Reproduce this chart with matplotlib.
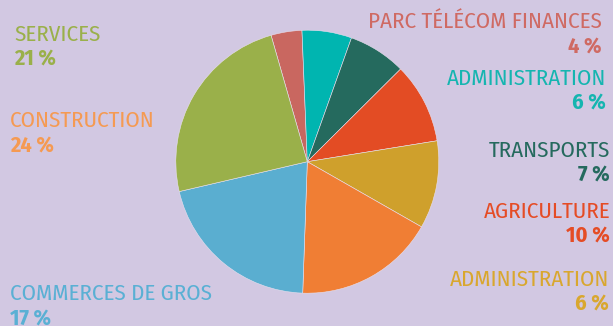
import matplotlib
matplotlib.use('Agg')
import matplotlib.pyplot as plt

# slice sizes, clockwise from the top
sectors = ['Parc Télécom Finances', 'Administration', 'Transports', 'Agriculture',
           'Administration (2)', 'Construction', 'Commerces de gros', 'Services']
shares = [3.8, 6.1, 7.1, 9.9, 10.8, 17.3, 20.8, 24.2]
slice_colors = ['#c96760', '#00b5b0', '#256a5e', '#e34c24',
                '#cfa02c', '#f07e34', '#5aaed0', '#9ab04a']

# labels as printed around the chart
label_names = ['SERVICES', 'CONSTRUCTION', 'COMMERCES DE GROS', 'PARC TÉLÉCOM FINANCES',
               'ADMINISTRATION', 'TRANSPORTS', 'AGRICULTURE', 'ADMINISTRATION']
label_values = ['21 %', '24 %', '17 %', '4 %', '6 %', '7 %', '10 %', '6 %']
label_colors = ['#9ab04a', '#f59a52', '#5ab0d4', '#cf6a63',
                '#15b5b0', '#256a5e', '#e54c25', '#d9a72e']

W, H = 613, 326
bg = '#d2c8e2'
fam = ['Fira Sans Condensed', 'DejaVu Sans']

fig = plt.figure(figsize=(W / 100, H / 100), dpi=100, facecolor=bg)

cx, cy, r = 307.3, 161.7, 131.5
ax = fig.add_axes([(cx - r) / W, (H - cy - r) / H, 2 * r / W, 2 * r / H])
ax.pie(shares, colors=slice_colors, startangle=106, counterclock=False,
       wedgeprops=dict(linewidth=0.4, edgecolor='#e8e0ee'))
ax.set_xlim(-1, 1)
ax.set_ylim(-1, 1)
ax.set_facecolor(bg)

# (x, name baseline, value baseline, alignment) in pixels
places = [(14, 41, 65, 'left'), (10, 127, 152, 'left'), (10, 300, 325, 'left'),
          (602, 28, 53, 'right'), (606, 85, 109, 'right'), (610, 157, 181, 'right'),
          (610, 218, 242, 'right'), (609, 286, 310, 'right')]

for (x, y1, y2, ha), name, val, col in zip(places, label_names, label_values, label_colors):
    fig.text(x / W, 1 - y1 / H, name, color=col, fontsize=16.5, ha=ha, va='baseline',
             family=fam)
    fig.text(x / W, 1 - y2 / H, val, color=col, fontsize=16, ha=ha, va='baseline',
             family=fam, fontweight='bold')

fig.savefig('out.png', dpi=100, facecolor=bg)
